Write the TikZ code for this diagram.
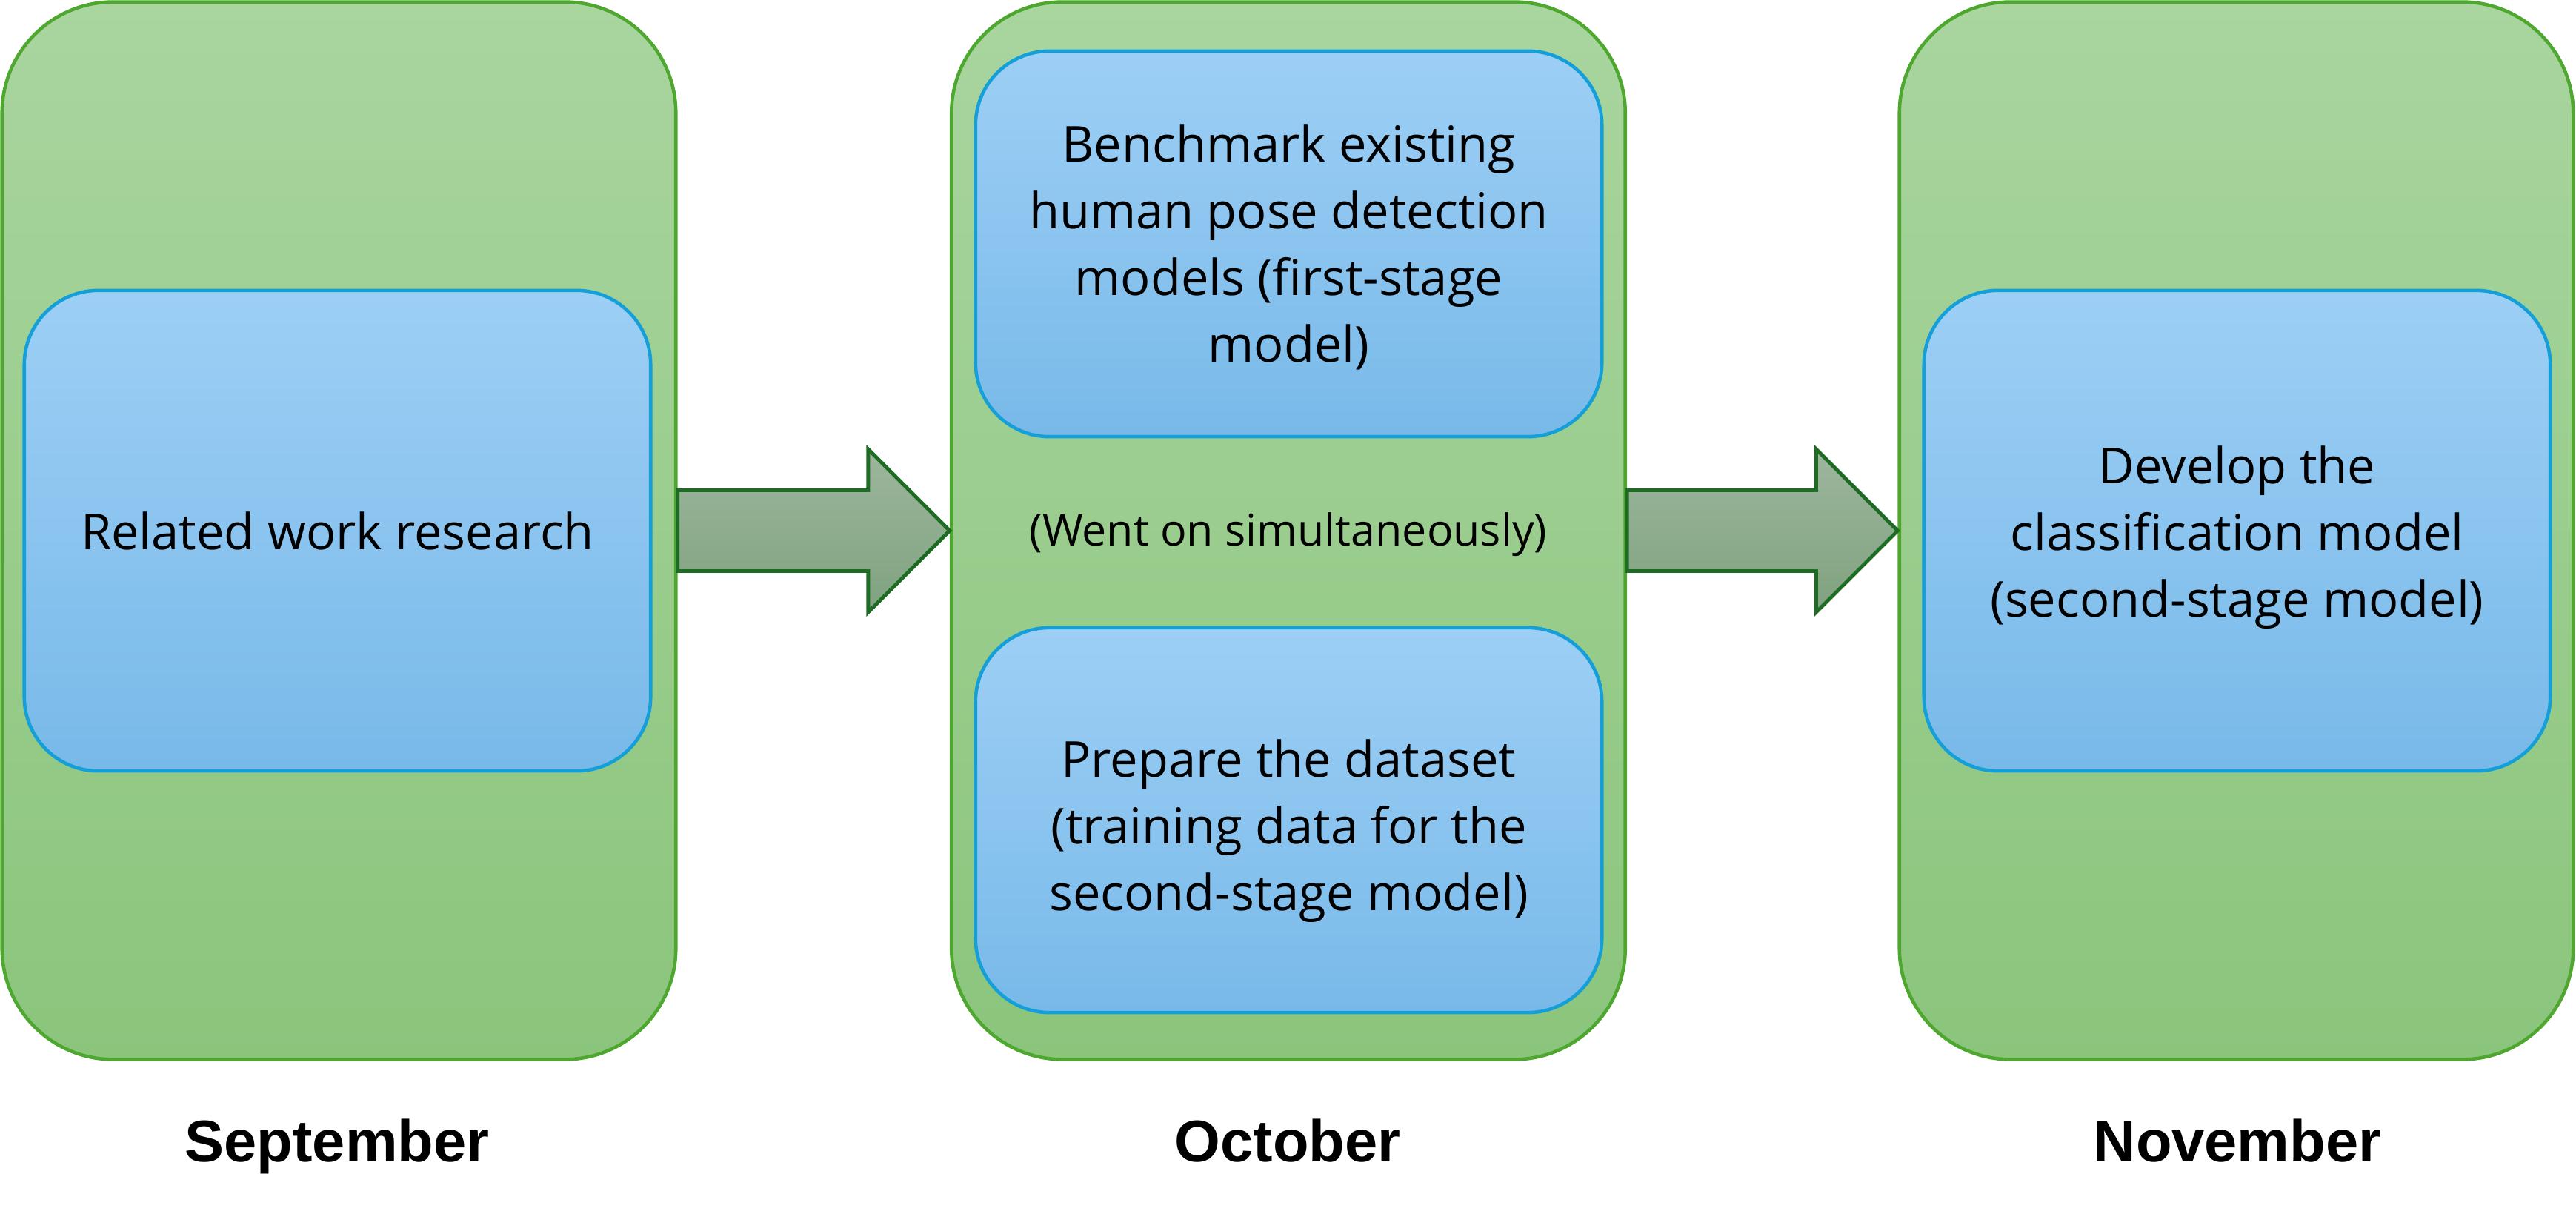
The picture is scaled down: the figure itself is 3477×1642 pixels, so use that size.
\documentclass[tikz,border=0pt]{standalone}
\usepackage{fontspec}
\setmainfont{Open Sans}
\newfontfamily\monthfont{Liberation Sans}
\usetikzlibrary{calc}
\definecolor{gtop}{HTML}{A9D59F}
\definecolor{gbot}{HTML}{8BC57C}
\definecolor{gline}{HTML}{4EA72E}
\definecolor{btop}{HTML}{9DCFF5}
\definecolor{bbot}{HTML}{78B9E9}
\definecolor{bline}{HTML}{159FD8}
\definecolor{atop}{HTML}{9DB69D}
\definecolor{abot}{HTML}{7FA27F}
\definecolor{aline}{HTML}{1E6B24}
\tikzset{
  monthbox/.style={rectangle, draw=gline, line width=1.3pt, top color=gtop, bottom color=gbot,
    rounded corners=1.5cm, minimum width=9.09cm, minimum height=14.26cm, inner sep=0pt},
  taskbox/.style={rectangle, draw=bline, line width=1.3pt, top color=btop, bottom color=bbot,
    rounded corners=1.0cm, minimum width=8.45cm, inner sep=0pt},
  tasktext/.style={align=center, inner sep=0pt, font=\fontsize{19}{25.6}\selectfont},
  blockarrow/.style={draw=aline, line width=1.4pt, top color=atop, bottom color=abot, line join=miter},
  monthlabel/.style={anchor=base, font=\monthfont\bfseries\fontsize{22.6}{27}\selectfont},
  note/.style={font=\fontsize{16.8}{22}\selectfont}
}
\begin{document}
\begin{tikzpicture}[x=0.01cm, y=-0.01cm]
\useasboundingbox (0,0) rectangle (3477,1642);
% month containers
\node[monthbox] (g1) at (457.5,716) {};
\node[monthbox] (g2) at (1739,716) {};
\node[monthbox] (g3) at (3018.5,716) {};
% task boxes
\node[taskbox, minimum height=6.48cm] (t1) at (455.5,716) {};
\node[taskbox, minimum height=5.20cm] (t2) at (1739.5,329) {};
\node[taskbox, minimum height=5.19cm] (t3) at (1739.5,1106.5) {};
\node[taskbox, minimum height=6.48cm] (t4) at (3019.5,716) {};
% task texts
\node[tasktext] (t1l) at (t1.center) {Related work research};
\node[tasktext] (t2l) at ($(t2.center)+(0,4.5)$) {Benchmark existing\\human pose detection\\models (first-stage\\model)};
\node[tasktext] (t3l) at ($(t3.center)+(0,15)$) {Prepare the dataset\\(training data for the\\second-stage model)};
\node[tasktext] (t4l) at ($(t4.center)+(0,9)$) {Develop the\\classification model\\(second-stage model)};
\node[note] (n1) at (1739,721) {(Went on simultaneously)};
% block arrows
\draw[blockarrow] ($(g1.east)+(0,-54.5)$) -- ($(g2.west)+(-110,-54.5)$) -- ($(g2.west)+(-110,-110)$)
  -- (g2.west) -- ($(g2.west)+(-110,110)$) -- ($(g2.west)+(-110,54.5)$) -- ($(g1.east)+(0,54.5)$) -- cycle;
\draw[blockarrow] ($(g2.east)+(0,-54.5)$) -- ($(g3.west)+(-110,-54.5)$) -- ($(g3.west)+(-110,-110)$)
  -- (g3.west) -- ($(g3.west)+(-110,110)$) -- ($(g3.west)+(-110,54.5)$) -- ($(g2.east)+(0,54.5)$) -- cycle;
% month labels
\node[monthlabel] (m1) at (455,1567) {September};
\node[monthlabel] (m2) at (1738,1567) {October};
\node[monthlabel] (m3) at (3020,1567) {November};
\end{tikzpicture}
\end{document}
